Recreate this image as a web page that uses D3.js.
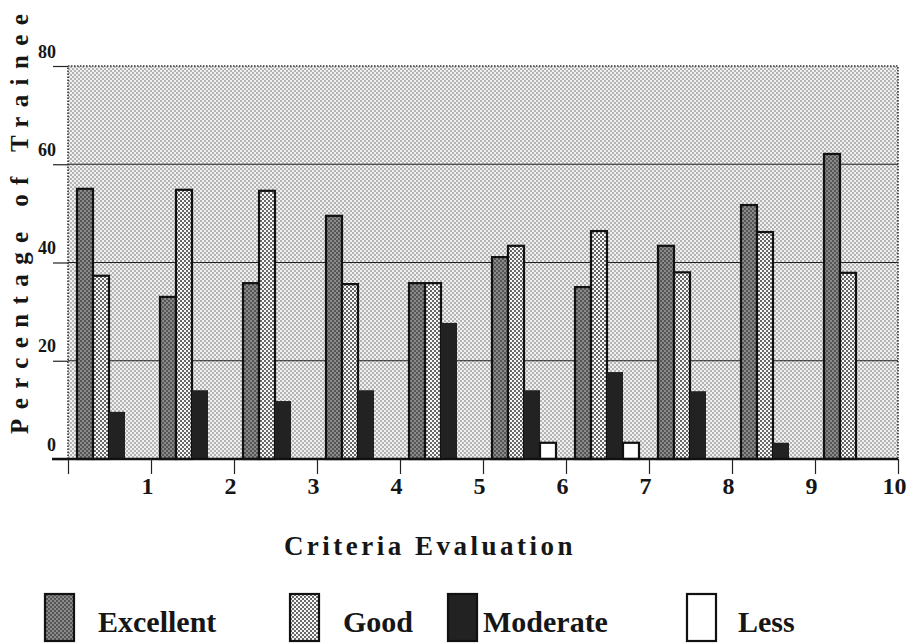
<!DOCTYPE html>
<html>
<head>
<meta charset="utf-8">
<script src="https://cdn.jsdelivr.net/npm/d3@7"></script>
<style>
  html, body { margin: 0; padding: 0; background: #fff; }
  svg { display: block; }
  text { font-family: "Liberation Serif", "Times New Roman", serif; font-weight: bold; fill: #161616; }
</style>
</head>
<body>
<div id="main"></div>
<script>
// data (percent of trainees)
const criteria = [1, 2, 3, 4, 5, 6, 7, 8, 9, 10];
const seriesNames = ['Excellent', 'Good', 'Moderate', 'Less'];
const excellent = [55, 33, 35.8, 49.5, 35.8, 41.1, 35, 43.4, 51.7, 62.1];
const good = [37.3, 54.8, 54.6, 35.6, 35.8, 43.4, 46.4, 38, 46.2, 37.9];
const moderate = [9.6, 14, 11.8, 14, 27.7, 14, 17.7, 13.8, 3.3, 0];
const less = [0, 0, 0, 0, 0, 3.3, 3.3, 0, 0, 0];
const yTicks = [0, 20, 40, 60, 80];
const xTicks = [0, 1, 2, 3, 4, 5, 6, 7, 8, 9, 10];

const values = { Excellent: excellent, Good: good, Moderate: moderate, Less: less };

const canvasWidth = 914, canvasHeight = 643;
const plot = { left: 68, right: 898, top: 66, bottom: 459 };

const svg = d3.select('#main').append('svg')
  .attr('width', canvasWidth)
  .attr('height', canvasHeight);

// dotted fills, like the halftone in the print
const defs = svg.append('defs');
function dots(id, base, dot, r) {
  const p = defs.append('pattern').attr('id', id)
    .attr('patternUnits', 'userSpaceOnUse').attr('width', 4).attr('height', 4);
  p.append('rect').attr('width', 4).attr('height', 4).attr('fill', base);
  p.append('circle').attr('cx', 1).attr('cy', 1).attr('r', r).attr('fill', dot);
  p.append('circle').attr('cx', 3).attr('cy', 3).attr('r', r).attr('fill', dot);
}
dots('bgDots', '#f0f0f0', '#5a5a5a', 0.75);
dots('goodDots', '#f8f8f8', '#2a2a2a', 0.95);
dots('excDots', '#8a8a8a', '#3c3c3c', 0.9);

const fills = { Excellent: 'url(#excDots)', Good: 'url(#goodDots)', Moderate: '#222', Less: '#fff' };
const strokes = { Excellent: '#111', Good: '#111', Moderate: 'none', Less: '#111' };

const x = d3.scaleLinear().domain([0, 10]).range([plot.left, plot.right]);
const xBand = d3.scaleBand().domain(criteria).range([plot.left, plot.right]);
const xSub = d3.scaleBand().domain(seriesNames).range([9, 73]);
const y = d3.scaleLinear().domain([0, 80]).range([plot.bottom, plot.top]);

// plot background
svg.append('rect')
  .attr('x', plot.left).attr('y', plot.top)
  .attr('width', plot.right - plot.left).attr('height', plot.bottom - plot.top)
  .attr('fill', 'url(#bgDots)');

svg.append('path')
  .attr('d', `M${plot.left},${plot.bottom}V${plot.top}H${plot.right}V${plot.bottom}`)
  .attr('fill', 'none')
  .attr('stroke', '#333')
  .attr('stroke-width', 1.6)
  .attr('stroke-dasharray', '1.5,1.5');

// gridlines
svg.append('g').selectAll('line')
  .data(yTicks.filter(d => d > 0 && d < 80))
  .enter().append('line')
  .attr('x1', plot.left).attr('x2', plot.right)
  .attr('y1', d => y(d)).attr('y2', d => y(d))
  .attr('stroke', '#222').attr('stroke-width', 1.1);

// y axis
const yAxis = svg.append('g')
  .attr('transform', `translate(${plot.left},0)`)
  .call(d3.axisLeft(y).tickValues(yTicks).tickSize(15));
yAxis.select('.domain').remove();
yAxis.selectAll('.tick line').attr('stroke', '#222').attr('stroke-width', 1.2);
yAxis.selectAll('.tick text')
  .attr('x', -12).attr('y', -9).attr('dy', 0)
  .style('font-size', '18px')
  .style('font-family', '"Liberation Serif", serif')
  .style('font-weight', 'bold')
  .attr('fill', '#161616');

// bars
const chart = svg.append('g');
seriesNames.forEach(name => {
  chart.selectAll(`rect.${name}`)
    .data(criteria.map((c, i) => ({ c, v: values[name][i] })).filter(d => d.v > 0))
    .enter().append('rect')
    .attr('class', name)
    .attr('x', d => xBand(d.c) + xSub(name))
    .attr('y', d => y(d.v))
    .attr('width', xSub.bandwidth())
    .attr('height', d => y(0) - y(d.v))
    .attr('fill', fills[name])
    .attr('stroke', strokes[name])
    .attr('stroke-width', 2.2);
});

// baseline + x axis
svg.append('line')
  .attr('x1', 52).attr('x2', plot.right)
  .attr('y1', y(0)).attr('y2', y(0))
  .attr('stroke', '#111').attr('stroke-width', 2.5);

const xAxis = svg.append('g')
  .attr('transform', `translate(0,${plot.bottom})`)
  .call(d3.axisBottom(x).tickValues(xTicks).tickSize(15).tickFormat(d => d === 0 ? '' : d));
xAxis.select('.domain').remove();
xAxis.selectAll('.tick line').attr('stroke', '#222').attr('stroke-width', 1.2);
xAxis.selectAll('.tick text')
  .attr('dx', -4)
  .style('font-size', '24px')
  .style('font-family', '"Liberation Serif", serif')
  .style('font-weight', 'bold')
  .attr('fill', '#161616');

// titles
svg.append('text')
  .attr('x', 430).attr('y', 555)
  .attr('text-anchor', 'middle')
  .style('font-size', '27px')
  .style('letter-spacing', '3.5px')
  .text('Criteria Evaluation');

svg.append('text')
  .attr('transform', 'translate(28,434) rotate(-90)')
  .style('font-size', '25px')
  .style('letter-spacing', '9.4px')
  .text('Percentage of Trainee');

// legend
const legendSwatchX = [45, 290, 448, 687];
const legendTextX = [98, 343, 483, 738];
const legend = svg.append('g');
seriesNames.forEach((name, i) => {
  legend.append('rect')
    .attr('x', legendSwatchX[i]).attr('y', 594)
    .attr('width', 29).attr('height', 47)
    .attr('fill', fills[name])
    .attr('stroke', '#111')
    .attr('stroke-width', 2.2);
  legend.append('text')
    .attr('x', legendTextX[i]).attr('y', 632)
    .style('font-size', '30px')
    .text(name);
});
</script>
</body>
</html>
